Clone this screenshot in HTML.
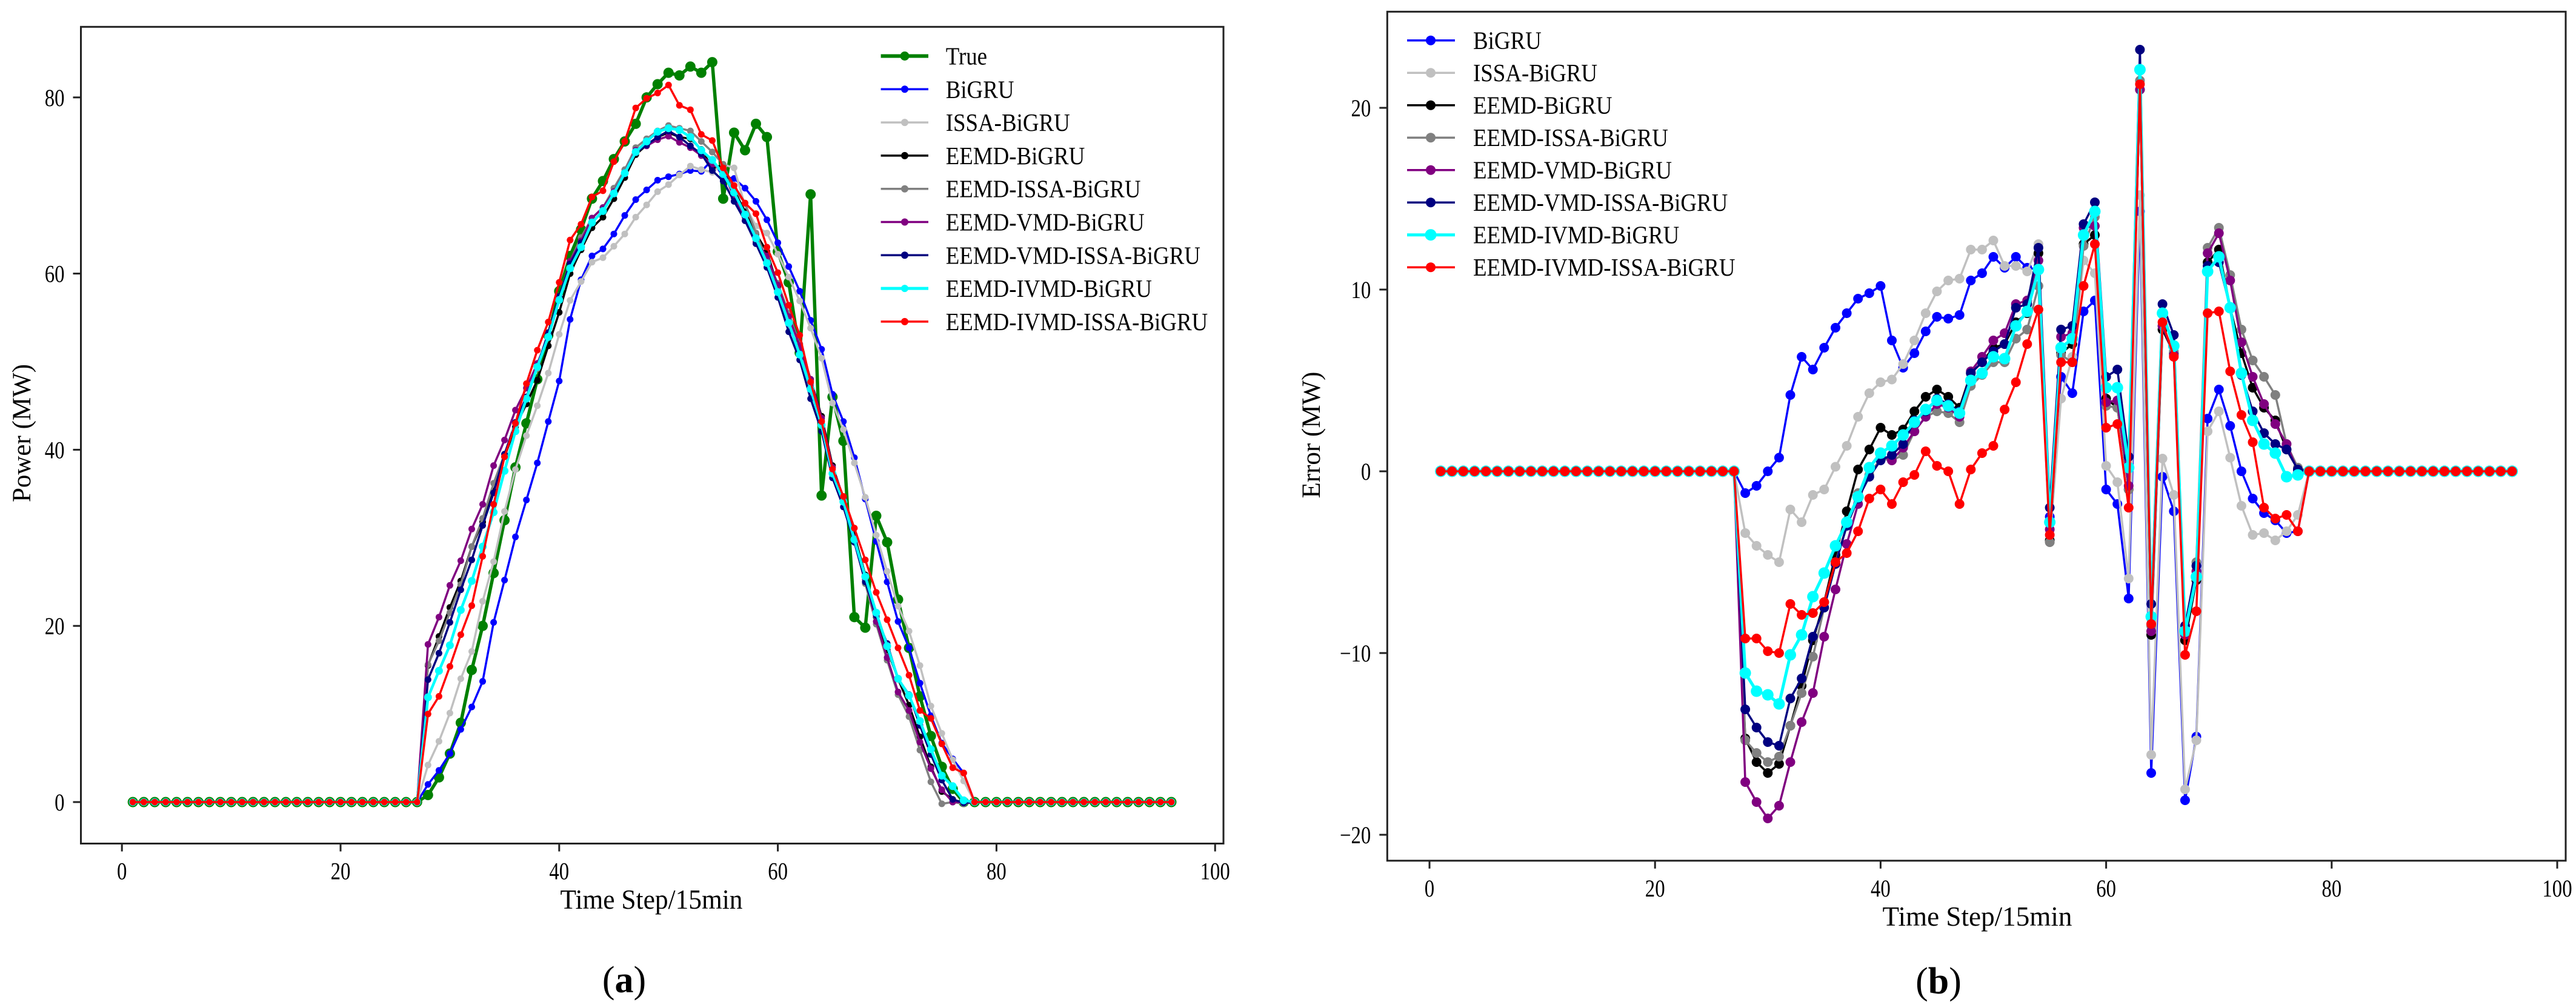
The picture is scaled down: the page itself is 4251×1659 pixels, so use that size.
<!DOCTYPE html>
<html><head><meta charset="utf-8"><title>Power forecast and error comparison</title>
<style>
html,body{margin:0;padding:0;background:#fff;}
svg{display:block;font-family:"Liberation Serif","Times New Roman",serif;}
</style></head>
<body>
<svg id="fig" xmlns="http://www.w3.org/2000/svg" width="4251" height="1659" viewBox="0 0 4251 1659">
<rect x="0" y="0" width="4251" height="1659" fill="#fff"/>
</svg>
<script>
// ---------- DATA ----------
const steps = [1,2,3,4,5,6,7,8,9,10,11,12,13,14,15,16,17,18,19,20,21,22,23,24,25,26,27,28,29,30,31,32,33,34,35,36,37,38,39,40,41,42,43,44,45,46,47,48,49,50,51,52,53,54,55,56,57,58,59,60,61,62,63,64,65,66,67,68,69,70,71,72,73,74,75,76,77,78,79,80,81,82,83,84,85,86,87,88,89,90,91,92,93,94,95,96];
const truth = [0,0,0,0,0,0,0,0,0,0,0,0,0,0,0,0,0,0,0,0,0,0,0,0,0,0,0,
0.8,2.8,5.5,9,15,20,26,32,38,43,48,53,58,62,65,68.5,70.5,73,75,77,80,81.5,82.8,82.5,83.5,82.8,84,68.5,76,74,77,75.5,62.5,59,51,69,34.8,46,41,21,19.8,32.5,29.5,23,17.5,12,7.5,4,1.5,0,
0,0,0,0,0,0,0,0,0,0,0,0,0,0,0,0,0,0,0];
const errBiGRU = [0,0,0,0,0,0,0,0,0,0,0,0,0,0,0,0,0,0,0,0,0,0,0,0,0,0,0,
-1.2,-0.8,0,0.75,4.2,6.3,5.6,6.8,7.9,8.7,9.5,9.8,10.2,7.2,5.7,6.5,7.7,8.5,8.4,8.6,10.5,10.9,11.8,11.2,11.8,11.2,11.1,-2.5,5.2,4.3,8.8,9.4,-1,-1.8,-7,14.3,-16.6,-0.3,-2.2,-18.1,-14.6,2.9,4.5,2.5,0,-1.5,-2.3,-2.7,-3.4,-3.3,
0,0,0,0,0,0,0,0,0,0,0,0,0,0,0,0,0,0,0];
const errIssa = [0,0,0,0,0,0,0,0,0,0,0,0,0,0,0,0,0,0,0,0,0,0,0,0,0,0,0,
-3.4,-4.1,-4.6,-5,-2.1,-2.8,-1.3,-1,0.25,1.4,3,4.3,4.9,5.05,5.9,7.2,8.7,9.9,10.5,10.6,12.2,12.2,12.7,11.3,11.3,11,12.5,-3.9,4,6.3,11.6,10.9,0.3,-0.6,-5.9,15.2,-15.6,0.7,-1.3,-17.5,-14.8,2.2,3.3,0.75,-1.9,-3.5,-3.4,-3.8,-3.3,-2.4,
0,0,0,0,0,0,0,0,0,0,0,0,0,0,0,0,0,0,0];
const errEemd = [0,0,0,0,0,0,0,0,0,0,0,0,0,0,0,0,0,0,0,0,0,0,0,0,0,0,0,
-14.7,-16,-16.6,-16.1,-14,-11.8,-9.3,-7.2,-4.6,-2.2,0.1,1.2,2.4,2,2.3,3.3,4.1,4.5,4.1,3.5,5.4,6,6.8,7,8.2,8.7,12,-3.8,6.5,7,12.5,13,4,3.5,-1,21,-9,7.8,6.5,-9.3,-6,11.5,12.2,9,6.5,4.6,3.5,2.8,1.2,0.1,
0,0,0,0,0,0,0,0,0,0,0,0,0,0,0,0,0,0,0];
const errEemdIssa = [0,0,0,0,0,0,0,0,0,0,0,0,0,0,0,0,0,0,0,0,0,0,0,0,0,0,0,
-14.8,-15.5,-16,-15.7,-14,-12.2,-10.2,-7.5,-5,-3,-1.2,-0.2,0.7,0.6,0.9,2.2,3,3.3,3.2,2.7,4.7,5.3,6,6,7.3,7.8,10.2,-3.9,6.4,6,12.4,14,3.6,3.5,-1,21.5,-8.5,8,6.6,-9,-5,12.3,13.4,10.8,7.8,6.1,5.2,4.2,1.5,0.2,
0,0,0,0,0,0,0,0,0,0,0,0,0,0,0,0,0,0,0];
const errVmd = [0,0,0,0,0,0,0,0,0,0,0,0,0,0,0,0,0,0,0,0,0,0,0,0,0,0,0,
-17.1,-18.2,-19.1,-18.4,-16,-13.8,-12.2,-9.1,-6.5,-4,-1.8,0.2,0.9,0.6,1.3,2.2,3,3.7,3.5,3,5.5,6.3,7.2,7.6,9.2,9.4,11.6,-3.2,7.4,7.6,13.4,13.5,3.8,3.9,-0.8,21,-8.8,8,6.4,-9,-5.5,12,13.1,10.5,7.1,5.2,3.7,2.6,1.5,0,
0,0,0,0,0,0,0,0,0,0,0,0,0,0,0,0,0,0,0];
const errVmdIssa = [0,0,0,0,0,0,0,0,0,0,0,0,0,0,0,0,0,0,0,0,0,0,0,0,0,0,0,
-13.1,-14.1,-14.9,-15.1,-12.5,-11.4,-9.1,-7.5,-5.1,-3,-1.5,-0.3,0.6,0.9,1.5,2.8,3.3,4,3.7,3.3,5.4,6,6.6,7,9,9.2,12.3,-2,7.8,8,13.6,14.8,5.2,5.6,0.8,23.2,-7.3,9.2,7.5,-8.5,-5.2,11.3,11.5,9,5.3,3.3,2.1,1.5,1.2,0.1,
0,0,0,0,0,0,0,0,0,0,0,0,0,0,0,0,0,0,0];
const errIvmd = [0,0,0,0,0,0,0,0,0,0,0,0,0,0,0,0,0,0,0,0,0,0,0,0,0,0,0,
-11.1,-12.1,-12.3,-12.8,-10.1,-9,-6.9,-5.6,-4.1,-2.8,-1.4,0.2,1,1.4,2,2.7,3.4,3.9,3.6,3.2,5,5.4,6.3,6.2,8,8.8,11.1,-2.8,6.8,7.3,13,14.3,4.6,4.6,0.2,22.1,-8,8.7,6.9,-8.8,-5.8,11,11.8,9,5.4,2.8,1.5,1,-0.3,-0.2,
0,0,0,0,0,0,0,0,0,0,0,0,0,0,0,0,0,0,0];
const errIvmdIssa = [0,0,0,0,0,0,0,0,0,0,0,0,0,0,0,0,0,0,0,0,0,0,0,0,0,0,0,
-9.2,-9.2,-9.9,-10,-7.3,-7.9,-7.8,-7.2,-5,-4.5,-3.3,-1.5,-1,-1.8,-0.6,-0.2,1.1,0.3,0,-1.8,0.1,1,1.4,3.4,4.9,7,8.9,-3.5,6,6,10.2,12.5,2.4,2.6,-2,21.3,-8.4,8.2,6.3,-10.1,-7.7,8.7,8.8,5.5,3.1,1.6,-2,-2.6,-2.4,-3.3,
0,0,0,0,0,0,0,0,0,0,0,0,0,0,0,0,0,0,0];
const seriesNames = ["BiGRU","ISSA-BiGRU","EEMD-BiGRU","EEMD-ISSA-BiGRU","EEMD-VMD-BiGRU","EEMD-VMD-ISSA-BiGRU","EEMD-IVMD-BiGRU","EEMD-IVMD-ISSA-BiGRU"];
const seriesErrors = [errBiGRU,errIssa,errEemd,errEemdIssa,errVmd,errVmdIssa,errIvmd,errIvmdIssa];
const xTicks = [0,20,40,60,80,100];
const yTicksA = [0,20,40,60,80];
const yTicksB = [-20,-10,0,10,20];

// ---------- STYLE ----------
const colors = ["#0000ff","#c0c0c0","#000000","#808080","#800080","#000080","#00ffff","#ff0000"];
const slugs = ["bigru","issa-bigru","eemd-bigru","eemd-issa-bigru","eemd-vmd-bigru","eemd-vmd-issa-bigru","eemd-ivmd-bigru","eemd-ivmd-issa-bigru"];
const NS = "http://www.w3.org/2000/svg";
const svg = document.getElementById("fig");

function el(tag, attrs, parent){
  const e = document.createElementNS(NS, tag);
  for (const k in attrs) e.setAttribute(k, attrs[k]);
  (parent||svg).appendChild(e);
  return e;
}
function txt(parent, x, y, s, size, anchor, sx){
  const t = el("text", {transform:"translate("+x+","+y+") scale("+sx+",1)", "font-size":size, "text-anchor":anchor, fill:"#000"}, parent);
  t.textContent = s;
  return t;
}

const A = {l:133.5, r:2019, t:44.3, b:1392.5, x0:201.2, xs:18.04, y0:1324, ys:14.54};
const B = {l:2289.3, r:4234, t:19.3, b:1420.8, x0:2359, xs:18.61, y0:778, ys:30.0};
function xA(v){return A.x0 + v*A.xs;}
function yA(v){return A.y0 - v*A.ys;}
function xB(v){return B.x0 + v*B.xs;}
function yB(v){return B.y0 - v*B.ys;}

function drawAxesFrame(ax, xf, yf, yTicks, name){
  const g = el("g", {});
  
  
  const fr = el("rect", {x:ax.l, y:ax.t, width:ax.r-ax.l, height:ax.b-ax.t, fill:"none", stroke:"#222", "stroke-width":3}, g);
  
  
  xTicks.forEach(v=>{
    const X = xf(v);
    const tk = el("line", {x1:X, x2:X, y1:ax.b, y2:ax.b+13, stroke:"#222", "stroke-width":3}, g);
    
    
    const lb = txt(g, X, ax.b+59, String(v), 40, "middle", 0.82);
    
    
  });
  yTicks.forEach(v=>{
    const Y = yf(v);
    const tk = el("line", {x1:ax.l-13, x2:ax.l, y1:Y, y2:Y, stroke:"#222", "stroke-width":3}, g);
    
    
    const lb = txt(g, ax.l-27, Y+14, v<0 ? "\u2212"+Math.abs(v) : String(v), 40, "end", 0.82);
    
    
  });
  return g;
}

function drawSeries(xf, yf, vals, color, lw, r, name, clipId){
  const g = el("g", {"clip-path":"url(#"+clipId+")"});
  
  
  const pts = steps.map((s,i)=>xf(s).toFixed(1)+","+yf(vals[i]).toFixed(1)).join(" ");
  const pl = el("polyline", {points:pts, fill:"none", stroke:color, "stroke-width":lw, "stroke-linejoin":"round"}, g);
  
  
  steps.forEach((s,i)=>{
    const c = el("circle", {cx:xf(s).toFixed(1), cy:yf(vals[i]).toFixed(1), r:r, fill:color}, g);
    
    
  });
}

const defs = el("defs", {});
const cpA = el("clipPath", {id:"clipA"}, defs);
el("rect", {x:A.l, y:A.t, width:A.r-A.l, height:A.b-A.t}, cpA);
const cpB = el("clipPath", {id:"clipB"}, defs);
el("rect", {x:B.l, y:B.t, width:B.r-B.l, height:B.b-B.t}, cpB);

// ---------- PANEL A ----------
drawSeries(xA, yA, truth, "#008000", 5.5, 8.5, "series-true", "clipA");
seriesErrors.forEach((err, k)=>{
  const pred = truth.map((t,i)=>t - err[i]);
  drawSeries(xA, yA, pred, colors[k], k===6 ? 4.5 : 3.5, k===6 ? 6.5 : 5.5, "power-"+slugs[k], "clipA");
});
drawAxesFrame(A, xA, yA, yTicksA, "power-chart");

const legA = el("g", {});


const legNamesA = ["True"].concat(seriesNames);
const legColorsA = ["#008000"].concat(colors);
legNamesA.forEach((n,i)=>{
  const y = 92.5 + i*54.8;
  const e = el("g", {}, legA);
  
  
  el("line", {x1:1453.6, x2:1532, y1:y, y2:y, stroke:legColorsA[i], "stroke-width": i===0 ? 6 : (i===7 ? 5 : 3.5)}, e);
  el("circle", {cx:1493, cy:y, r: i===0 ? 7.5 : 6, fill:legColorsA[i]}, e);
  txt(e, 1560.7, y+14, n, 41, "start", 0.9);
});

const ylA = el("text", {transform:"translate(50,715) rotate(-90)", "font-size":43, "text-anchor":"middle"});
ylA.textContent = "Power (MW)";


const xlA = el("text", {x:1075, y:1500, "font-size":46, "text-anchor":"middle", textLength:301, lengthAdjust:"spacingAndGlyphs"});
xlA.textContent = "Time Step/15min";


const capA = el("text", {x:1030, y:1638, "font-size":62, "text-anchor":"middle"});
capA.innerHTML = '(<tspan font-weight="bold">a</tspan>)';



// ---------- PANEL B ----------
seriesErrors.forEach((err, k)=>{
  drawSeries(xB, yB, err, colors[k], k===6 ? 5 : 3.5, k===6 ? 9.5 : 8, "error-"+slugs[k], "clipB");
});
drawAxesFrame(B, xB, yB, yTicksB, "error-chart");

const legB = el("g", {});


seriesNames.forEach((n,i)=>{
  const y = 66.7 + i*53.5;
  const e = el("g", {}, legB);
  
  
  el("line", {x1:2322, x2:2401, y1:y, y2:y, stroke:colors[i], "stroke-width": i===6 ? 5 : 3.5}, e);
  el("circle", {cx:2361, cy:y, r: i===6 ? 9.5 : 8, fill:colors[i]}, e);
  txt(e, 2431, y+14, n, 41, "start", 0.9);
});

const ylB = el("text", {transform:"translate(2178,718) rotate(-90)", "font-size":43, "text-anchor":"middle"});
ylB.textContent = "Error (MW)";


const xlB = el("text", {x:3263, y:1528, "font-size":46, "text-anchor":"middle", textLength:313, lengthAdjust:"spacingAndGlyphs"});
xlB.textContent = "Time Step/15min";


const capB = el("text", {x:3199, y:1640, "font-size":62, "text-anchor":"middle"});
capB.innerHTML = '(<tspan font-weight="bold">b</tspan>)';


</script>
</body></html>
